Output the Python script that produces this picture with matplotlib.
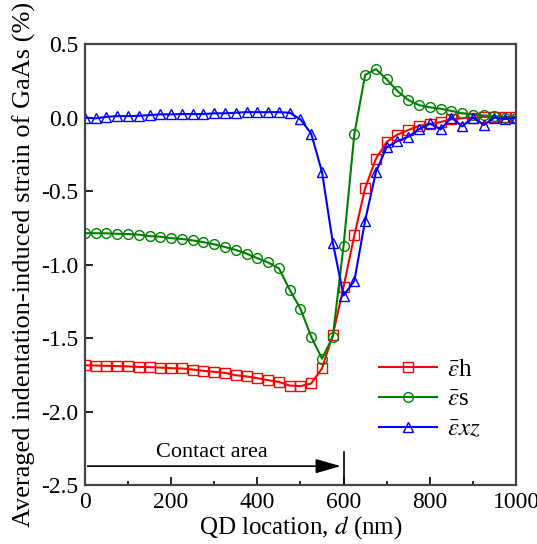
import matplotlib
matplotlib.use('Agg')
import matplotlib.pyplot as plt
import numpy as np

# QD location (nm)
d = list(range(0, 1001, 25))

eps_h = [-1.684, -1.686, -1.688, -1.690, -1.692, -1.695, -1.697, -1.700, -1.704, -1.706,
         -1.713, -1.722, -1.729, -1.736, -1.752, -1.760, -1.772, -1.786, -1.797, -1.822,
         -1.826, -1.808, -1.705, -1.48, -1.15, -0.80, -0.48, -0.28, -0.165, -0.115,
         -0.085, -0.055, -0.045, -0.03, -0.012, -0.005, 0.0, 0.005, 0.005, 0.005, 0.005]

eps_s = [-0.786, -0.786, -0.787, -0.790, -0.792, -0.796, -0.806, -0.810, -0.820, -0.825,
         -0.835, -0.847, -0.862, -0.880, -0.900, -0.925, -0.956, -0.985, -1.025, -1.17,
         -1.30, -1.49, -1.64, -1.49, -0.87, -0.11, 0.29, 0.33, 0.26, 0.18,
         0.12, 0.085, 0.07, 0.06, 0.045, 0.03, 0.02, 0.015, 0.01, 0.0, 0.0]

eps_xz = [0.0, -0.005, 0.005, 0.01, 0.01, 0.012, 0.017, 0.022, 0.022, 0.024,
          0.024, 0.024, 0.029, 0.029, 0.033, 0.037, 0.037, 0.037, 0.037, 0.033,
          -0.012, -0.11, -0.37, -0.85, -1.21, -1.11, -0.70, -0.37, -0.20, -0.16,
          -0.13, -0.08, -0.04, -0.08, 0.0, -0.06, 0.0, -0.05, 0.0, -0.01, 0.0]

plt.rcParams['font.family'] = 'Liberation Serif'
plt.rcParams['mathtext.fontset'] = 'stix'

fig = plt.figure(figsize=(5.37, 5.44), dpi=100)
ax = fig.add_axes([0.158, 0.108, 0.803, 0.811])

ax.plot(d, eps_h, color='red', marker='s', ms=7, mfc='none', mew=1.0, lw=1.5,
        label=r'$\bar{\varepsilon}$h')
ax.plot(d, eps_s, color='green', marker='o', ms=7, mfc='none', mew=1.0, lw=1.5,
        label=r'$\bar{\varepsilon}$s')
ax.plot(d, eps_xz, color='blue', marker='^', ms=7, mfc='none', mew=1.0, lw=1.5,
        label=r'$\bar{\varepsilon}xz$')

ax.set_xlim(0, 1000)
ax.set_ylim(-2.5, 0.5)
ax.set_xticks([0, 200, 400, 600, 800, 1000])
ax.set_xticks([100, 300, 500, 700, 900], minor=True)
ax.set_yticks(np.arange(-2.5, 0.51, 0.5))
ax.set_yticklabels(['-2.5', '-2.0', '-1.5', '-1.0', '-0.5', '0.0', '0.5'])
ax.tick_params(direction='in', which='major', length=6, width=1.2, labelsize=17, pad=5)
ax.tick_params(direction='in', which='minor', length=3, width=1.2)
for s in ax.spines.values():
    s.set_linewidth(1.6)
    s.set_color('#444444')

ax.set_xlabel(r'QD location, $d$ (nm)', fontsize=18, labelpad=1)
ax.set_ylabel('Averaged indentation-induced strain of GaAs (%)', fontsize=19, labelpad=3)

# contact area marker
ax.annotate('', xy=(600, -2.37), xytext=(0, -2.37),
            arrowprops=dict(arrowstyle='-|>,head_length=0.7,head_width=0.2',
                            color='black', lw=1.2, mutation_scale=22))
ax.plot([600, 600], [-2.5, -2.275], color='black', lw=1.2)
ax.text(295, -2.345, 'Contact area', ha='center', va='bottom', fontsize=16)

ax.legend(loc='lower right', bbox_to_anchor=(0.97, 0.05), frameon=False, fontsize=18,
          handlelength=2.3, labelspacing=0.3, handletextpad=0.4)

plt.savefig('out.png', dpi=100)
